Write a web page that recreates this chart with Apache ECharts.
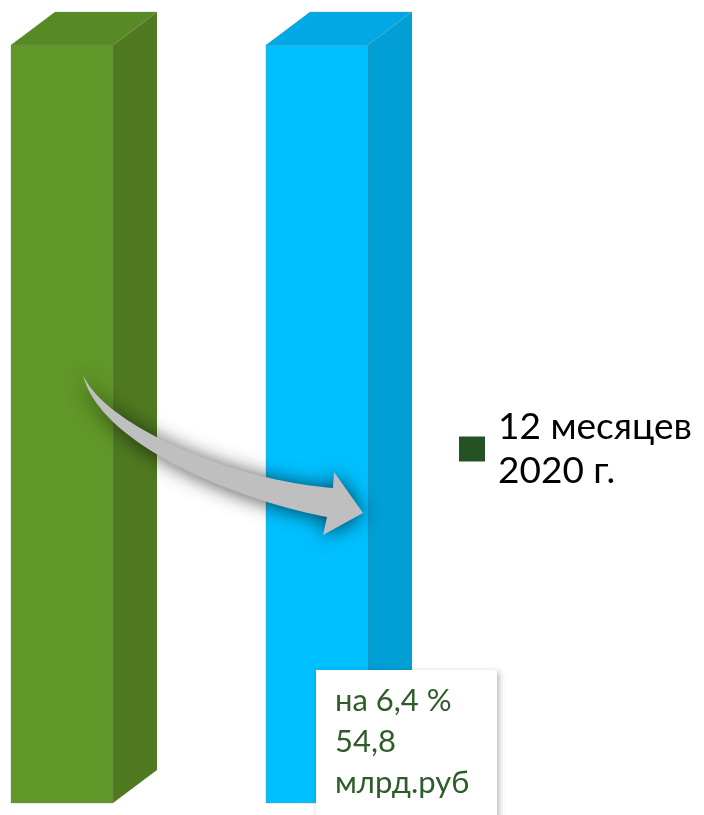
<!DOCTYPE html>
<html>
<head>
<meta charset="utf-8">
<script src="https://cdn.jsdelivr.net/npm/echarts@6/dist/echarts.min.js"></script>
<style>
html,body{margin:0;padding:0;background:#fff;}
#chart{width:704px;height:815px;}
</style>
</head>
<body>
<div id="chart"></div>
<script>
// ---- data ----
const categories = ['12 месяцев 2020 г.', '12 месяцев 2021 г.'];
const values = [100, 100];
const seriesName = '12 месяцев 2020 г.';
const labelLines = ['на 6,4 %', '54,8', 'млрд.руб'];

// ---- styles ----
const faceColors = [
  {front: '#619628', side: '#4f7a20', top: '#578a24'},
  {front: '#00c0ff', side: '#009fd5', top: '#00a9e5'}
];
const legendColor = '#245224';
const DX = 44, DY = 33, BAR_W = 102;

const chart = echarts.init(document.getElementById('chart'));

function cubic(p0, p1, p2, p3, t) {
  const u = 1 - t;
  const a = u * u * u, b = 3 * u * u * t, c = 3 * u * t * t, d = t * t * t;
  return [a * p0[0] + b * p1[0] + c * p2[0] + d * p3[0],
          a * p0[1] + b * p1[1] + c * p2[1] + d * p3[1]];
}
function arrowPoints() {
  const P0 = [83, 375];
  const up = [], low = [];
  const N = 50;
  for (let i = 0; i <= N; i++) up.push(cubic(P0, [105, 425], [230, 480], [333, 488], i / N));
  for (let i = N; i >= 1; i--) low.push(cubic(P0, [100, 445], [237, 500], [327, 517], i / N));
  return up.concat([[334, 472], [363, 513], [323, 535]], low);
}

const seriesData = categories.map((c, i) => [i, values[i]]);

const option = {
  animation: false,
  grid: {left: 62, width: 255, top: 45, bottom: 12},
  xAxis: {type: 'category', data: categories, boundaryGap: false, show: false},
  yAxis: {type: 'value', min: 0, max: 100, show: false},
  legend: {
    left: 459, top: 405, padding: 0,
    itemWidth: 26, itemHeight: 25, icon: 'rect',
    data: [{name: seriesName, itemStyle: {color: legendColor}}],
    formatter: n => n.replace(' 2020', '\n2020'),
    textStyle: {fontFamily: 'Lato', fontSize: 37, lineHeight: 44, color: '#000', padding: [0, 0, 0, 8]}
  },
  series: [{
    type: 'custom',
    name: seriesName,
    itemStyle: {color: faceColors[0].front},
    encode: {x: 0, y: 1},
    data: seriesData,
    renderItem: function (params, api) {
      const idx = params.dataIndex;
      const c = faceColors[idx];
      const top = api.coord([api.value(0), api.value(1)]);
      const bot = api.coord([api.value(0), 0]);
      const x0 = top[0] - BAR_W / 2, x1 = top[0] + BAR_W / 2;
      const yT = top[1], yB = bot[1];
      return {
        type: 'group',
        children: [
          {type: 'polygon', shape: {points: [[x1, yT], [x1 + DX, yT - DY], [x1 + DX, yB - DY], [x1, yB]]},
           style: {fill: c.side}},
          {type: 'polygon', shape: {points: [[x0, yT], [x0 + DX, yT - DY], [x1 + DX, yT - DY], [x1, yT]]},
           style: {fill: c.top, stroke: 'rgba(130,130,130,0.35)', lineWidth: 0.8}},
          {type: 'rect', shape: {x: x0, y: yT, width: BAR_W, height: yB - yT},
           style: {fill: c.front, stroke: 'rgba(130,130,130,0.45)', lineWidth: 0.8}}
        ]
      };
    }
  }],
  graphic: [
    {type: 'polygon', z: 50, shape: {points: arrowPoints()},
     style: {fill: '#bfbfbf', shadowBlur: 20, shadowOffsetX: 0, shadowOffsetY: 1, shadowColor: 'rgba(0,0,0,0.7)'}},
    {type: 'rect', z: 60, shape: {x: 316, y: 670, width: 181, height: 160},
     style: {fill: '#fff', shadowBlur: 6, shadowOffsetX: 2, shadowOffsetY: 2, shadowColor: 'rgba(0,0,0,0.3)'}},
    {type: 'text', z: 61, x: 335, y: 680,
     style: {text: labelLines.join('\n'), fontFamily: 'Lato', fontSize: 31, lineHeight: 41, fill: '#2e5d2a', verticalAlign: 'top'}}
  ]
};
chart.setOption(option);
</script>
</body>
</html>
